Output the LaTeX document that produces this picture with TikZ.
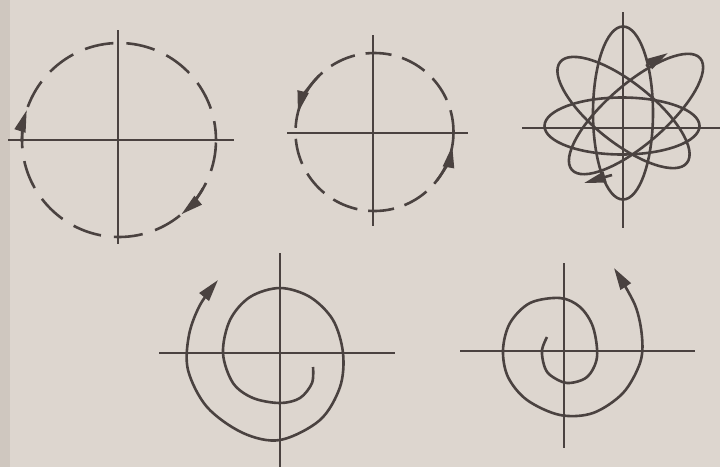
\documentclass[tikz,border=0pt]{standalone}
\usetikzlibrary{arrows.meta}
\definecolor{paper}{HTML}{DDD6CF}
\definecolor{paperedge}{HTML}{CFC7BF}
\definecolor{ink}{HTML}{4A4240}
\begin{document}
\begin{tikzpicture}[x=1pt,y=-1pt,
  axis/.style={draw=ink, line width=2.7pt},
  curve/.style={draw=ink, line width=2.6pt},
  tipA/.style={-{Triangle[length=22pt,width=11pt]}},
  tipB/.style={-{Triangle[length=22pt,width=12pt]}}]
\fill[paper] (0,0) rectangle (720,467);
\fill[paperedge] (0,0) rectangle (10,467);
\useasboundingbox (0,0) rectangle (720,467);
% ---------- figure 1: large dashed circle, clockwise
\coordinate (c1) at (119,140);
\draw[axis] (8,140) -- (234,140);
\draw[axis] (118,30) -- (118,244);
\draw[curve, dash pattern=on 29pt off 13pt, dash phase=10pt] (c1) circle[radius=97pt];
\draw[curve, tipA] ([shift={(c1)}]181:97pt) arc[start angle=181, end angle=162, radius=97pt];
\draw[curve, tipA] ([shift={(c1)}]-30:97pt) arc[start angle=-30, end angle=-50, radius=97pt];
% ---------- figure 2: small dashed circle, counterclockwise
\coordinate (c2) at (374.5,132);
\draw[axis] (287,133) -- (468,133);
\draw[axis] (373,35) -- (373,226);
\draw[curve, dash pattern=on 26pt off 11pt, dash phase=4pt] (c2) circle[radius=79pt];
\draw[curve, tipA] ([shift={(c2)}]135:79pt) arc[start angle=135, end angle=166, radius=79pt];
\draw[curve, tipA] ([shift={(c2)}]-38:79pt) arc[start angle=-38, end angle=-10, radius=79pt];
% ---------- figure 3: rosette
\draw[axis] (522,128) -- (720,128);
\draw[axis] (623,12) -- (623,228);
\draw[curve] (623,113) ellipse[x radius=30pt, y radius=86.5pt];
\draw[curve] (622,126) ellipse[x radius=77.5pt, y radius=28.5pt];
\draw[curve, rotate around={-38.5:(623.5,112.5)}] (623.5,112.5) ellipse[x radius=81pt, y radius=30pt];
\draw[curve, rotate around={41:(636,114)}] (636,114) ellipse[x radius=85pt, y radius=30pt];
\coordinate (r1a) at (646,66); \coordinate (r1b) at (668,53);
\coordinate (r2a) at (612,175); \coordinate (r2b) at (584,183);
\draw[curve, tipA] (r1a) -- (r1b);
\draw[curve, tipA] (r2a) -- (r2b);
% ---------- figure 4: spiral, clockwise outward
\draw[axis] (159,353) -- (395,353);
\draw[axis] (280,253) -- (280,467);
\draw[curve, tipB] plot[smooth, tension=0.55] coordinates {
  (313,367) (312,383) (300,398) (280,403) (253,398) (233,383) (223,353)
  (230,320) (250,297) (280,288) (310,297) (333,320) (343,353) (340,387)
  (320,420) (280,440) (243,433) (207,407) (188,370) (189,335) (200,305) (218,280)};
% ---------- figure 5: spiral, counterclockwise outward
\draw[axis] (460,351) -- (695,351);
\draw[axis] (564,263) -- (564,448);
\draw[curve, tipB] plot[smooth, tension=0.55] coordinates {
  (547,337) (542,350) (544,365) (550,375) (567,383) (587,377) (597,357)
  (593,327) (580,307) (560,298) (530,303) (510,323) (503,350) (508,377)
  (527,400) (560,415) (593,413) (623,393) (640,363) (642,337) (635,305) (614,268)};
\end{tikzpicture}
\end{document}
